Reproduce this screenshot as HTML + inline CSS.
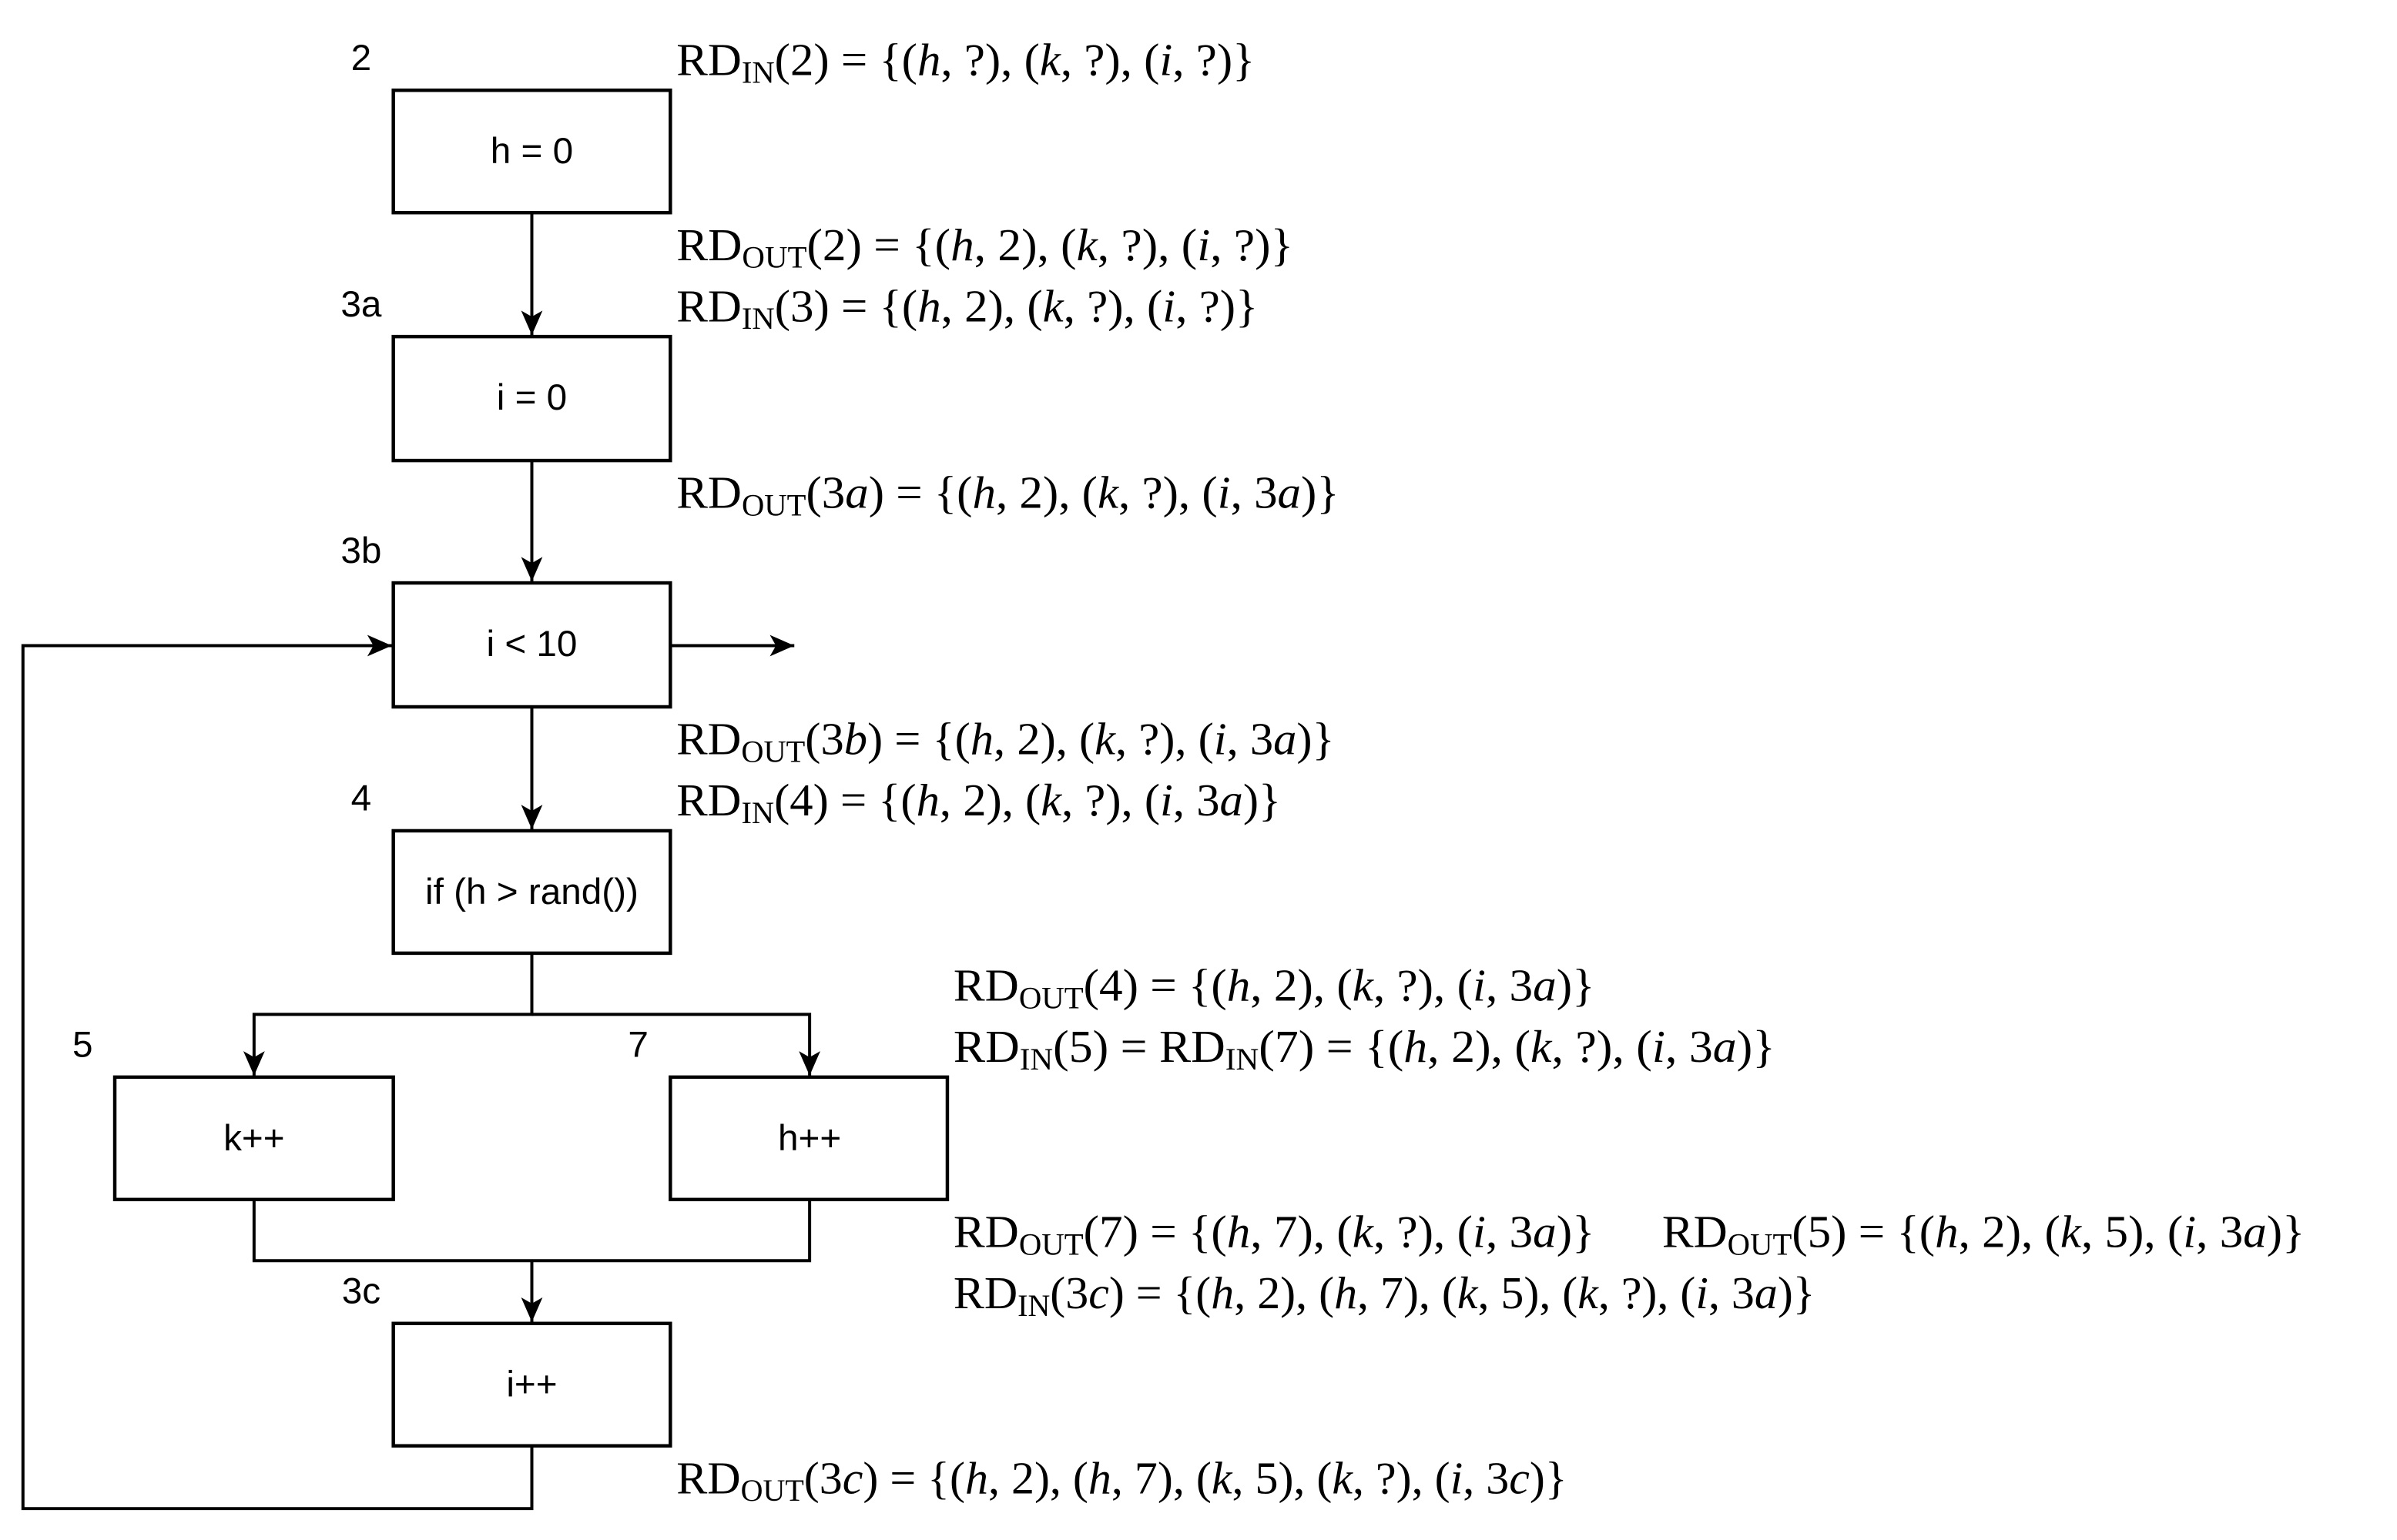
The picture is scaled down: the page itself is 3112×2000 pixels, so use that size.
<!DOCTYPE html>
<html><head><meta charset="utf-8"><style>
html,body{margin:0;padding:0;background:#fff;}
svg{display:block;}
.n{font-family:"Liberation Sans",sans-serif;font-size:48px;text-anchor:middle;dominant-baseline:central;}
.m{font-family:"Liberation Serif",serif;font-size:60px;}
.s{font-size:40px;}
.i{font-style:italic;}
</style></head><body>
<svg width="3112" height="2000" viewBox="0 0 3112 2000" xmlns="http://www.w3.org/2000/svg">
<defs><marker id="a" markerWidth="34" markerHeight="28" refX="32" refY="14" orient="auto" markerUnits="userSpaceOnUse">
<path d="M0,0 L32,14 L0,28 L8,14 Z" fill="#000"/></marker></defs>
<g transform="scale(0.9935)">
<g fill="none" stroke="#000" stroke-width="4.5">
<rect x="514" y="118" width="362" height="160" fill="#fff"/>
<rect x="514" y="440" width="362" height="162" fill="#fff"/>
<rect x="514" y="762" width="362" height="162" fill="#fff"/>
<rect x="514" y="1086" width="362" height="160" fill="#fff"/>
<rect x="150" y="1408" width="364" height="160" fill="#fff"/>
<rect x="876" y="1408" width="362" height="160" fill="#fff"/>
<rect x="514" y="1730" width="362" height="160" fill="#fff"/>
</g>
<g fill="none" stroke="#000" stroke-width="4">
<path d="M695,278 V438" marker-end="url(#a)"/>
<path d="M695,602 V760" marker-end="url(#a)"/>
<path d="M695,924 V1084" marker-end="url(#a)"/>
<path d="M876,844 H1038" marker-end="url(#a)"/>
<path d="M695,1246 V1326 H332 V1406" marker-end="url(#a)"/>
<path d="M695,1326 H1058 V1406" marker-end="url(#a)"/>
<path d="M332,1568 V1648 H1058 V1568"/>
<path d="M695,1648 V1728" marker-end="url(#a)"/>
<path d="M695,1890 V1972 H30 V844 H512" marker-end="url(#a)"/>
</g>
<g class="n">
<text x="695" y="198">h = 0</text>
<text x="695" y="520">i = 0</text>
<text x="695" y="842">i &lt; 10</text>
<text x="695" y="1166">if (h &gt; rand())</text>
<text x="332" y="1488">k++</text>
<text x="1058" y="1488">h++</text>
<text x="695" y="1810">i++</text>
<text x="472" y="76">2</text>
<text x="472" y="398">3a</text>
<text x="472" y="720">3b</text>
<text x="472" y="1044">4</text>
<text x="108" y="1366">5</text>
<text x="834" y="1366">7</text>
<text x="472" y="1688">3c</text>
</g>
<g class="m">
<text x="884" y="98" textLength="756" lengthAdjust="spacingAndGlyphs">RD<tspan class="s" dy="10">IN</tspan><tspan dy="-10">(2) = {(<tspan class="i">h</tspan>, ?), (<tspan class="i">k</tspan>, ?), (<tspan class="i">i</tspan>, ?)}</tspan></text>
<text x="884" y="340" textLength="806" lengthAdjust="spacingAndGlyphs">RD<tspan class="s" dy="10">OUT</tspan><tspan dy="-10">(2) = {(<tspan class="i">h</tspan>, 2), (<tspan class="i">k</tspan>, ?), (<tspan class="i">i</tspan>, ?)}</tspan></text>
<text x="884" y="420" textLength="760" lengthAdjust="spacingAndGlyphs">RD<tspan class="s" dy="10">IN</tspan><tspan dy="-10">(3) = {(<tspan class="i">h</tspan>, 2), (<tspan class="i">k</tspan>, ?), (<tspan class="i">i</tspan>, ?)}</tspan></text>
<text x="884" y="664" textLength="866" lengthAdjust="spacingAndGlyphs">RD<tspan class="s" dy="10">OUT</tspan><tspan dy="-10">(3<tspan class="i">a</tspan>) = {(<tspan class="i">h</tspan>, 2), (<tspan class="i">k</tspan>, ?), (<tspan class="i">i</tspan>, 3<tspan class="i">a</tspan>)}</tspan></text>
<text x="884" y="986" textLength="860" lengthAdjust="spacingAndGlyphs">RD<tspan class="s" dy="10">OUT</tspan><tspan dy="-10">(3<tspan class="i">b</tspan>) = {(<tspan class="i">h</tspan>, 2), (<tspan class="i">k</tspan>, ?), (<tspan class="i">i</tspan>, 3<tspan class="i">a</tspan>)}</tspan></text>
<text x="884" y="1066" textLength="790" lengthAdjust="spacingAndGlyphs">RD<tspan class="s" dy="10">IN</tspan><tspan dy="-10">(4) = {(<tspan class="i">h</tspan>, 2), (<tspan class="i">k</tspan>, ?), (<tspan class="i">i</tspan>, 3<tspan class="i">a</tspan>)}</tspan></text>
<text x="1246" y="1308" textLength="838" lengthAdjust="spacingAndGlyphs">RD<tspan class="s" dy="10">OUT</tspan><tspan dy="-10">(4) = {(<tspan class="i">h</tspan>, 2), (<tspan class="i">k</tspan>, ?), (<tspan class="i">i</tspan>, 3<tspan class="i">a</tspan>)}</tspan></text>
<text x="1246" y="1388" textLength="1074" lengthAdjust="spacingAndGlyphs">RD<tspan class="s" dy="10">IN</tspan><tspan dy="-10">(5) = RD</tspan><tspan class="s" dy="10">IN</tspan><tspan dy="-10">(7) = {(<tspan class="i">h</tspan>, 2), (<tspan class="i">k</tspan>, ?), (<tspan class="i">i</tspan>, 3<tspan class="i">a</tspan>)}</tspan></text>
<text x="1246" y="1630" textLength="838" lengthAdjust="spacingAndGlyphs">RD<tspan class="s" dy="10">OUT</tspan><tspan dy="-10">(7) = {(<tspan class="i">h</tspan>, 7), (<tspan class="i">k</tspan>, ?), (<tspan class="i">i</tspan>, 3<tspan class="i">a</tspan>)}</tspan></text>
<text x="2172" y="1630" textLength="840" lengthAdjust="spacingAndGlyphs">RD<tspan class="s" dy="10">OUT</tspan><tspan dy="-10">(5) = {(<tspan class="i">h</tspan>, 2), (<tspan class="i">k</tspan>, 5), (<tspan class="i">i</tspan>, 3<tspan class="i">a</tspan>)}</tspan></text>
<text x="1246" y="1710" textLength="1126" lengthAdjust="spacingAndGlyphs">RD<tspan class="s" dy="10">IN</tspan><tspan dy="-10">(3<tspan class="i">c</tspan>) = {(<tspan class="i">h</tspan>, 2), (<tspan class="i">h</tspan>, 7), (<tspan class="i">k</tspan>, 5), (<tspan class="i">k</tspan>, ?), (<tspan class="i">i</tspan>, 3<tspan class="i">a</tspan>)}</tspan></text>
<text x="884" y="1952" textLength="1164" lengthAdjust="spacingAndGlyphs">RD<tspan class="s" dy="10">OUT</tspan><tspan dy="-10">(3<tspan class="i">c</tspan>) = {(<tspan class="i">h</tspan>, 2), (<tspan class="i">h</tspan>, 7), (<tspan class="i">k</tspan>, 5), (<tspan class="i">k</tspan>, ?), (<tspan class="i">i</tspan>, 3<tspan class="i">c</tspan>)}</tspan></text>
</g>
</g>
</svg>
</body></html>
